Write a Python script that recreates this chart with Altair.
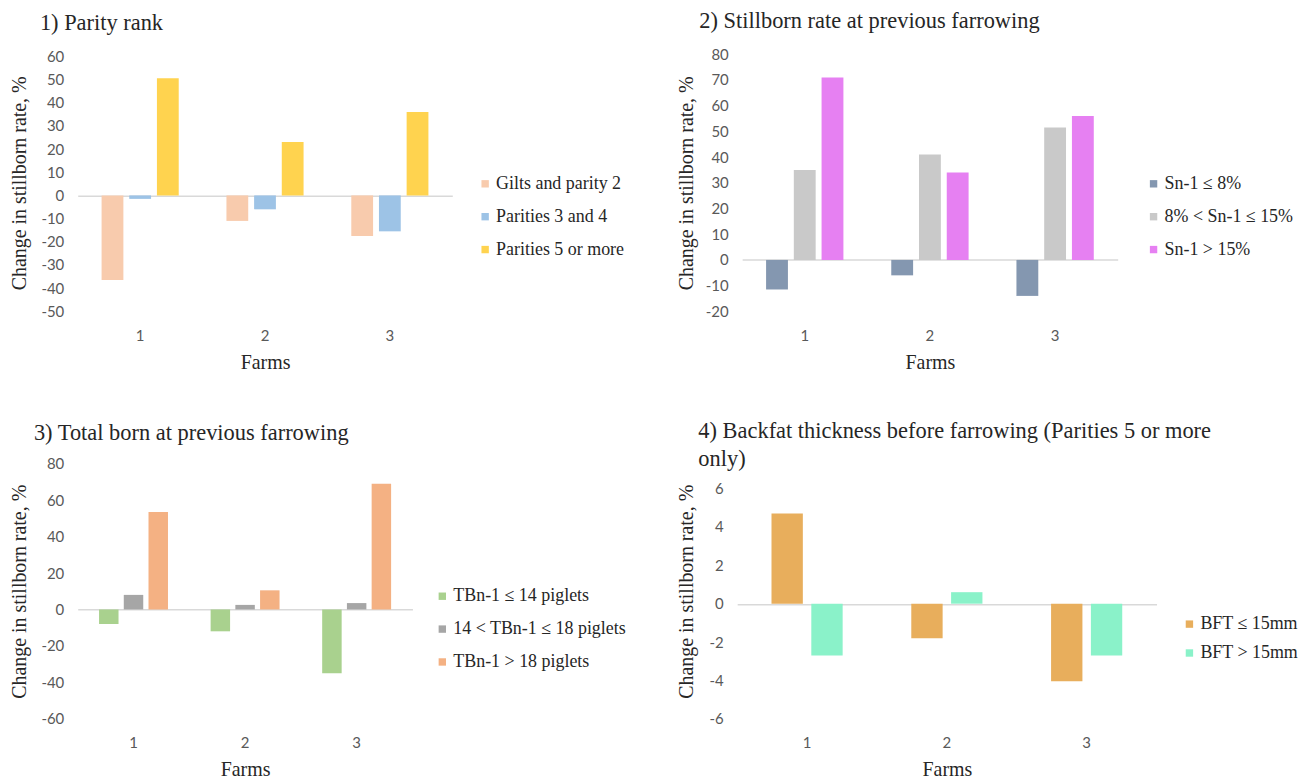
import altair as alt
import pandas as pd

farms = ["1", "2", "3"]

# Panel 1: Parity rank
p1_title = ["1) Parity rank"]
p1_series = ["Gilts and parity 2", "Parities 3 and 4", "Parities 5 or more"]
p1_gilts = [-36.5, -11.0, -17.5]
p1_par34 = [-1.5, -6.0, -15.5]
p1_par5 = [50.5, 23.0, 36.0]
p1_colors = ["#F8CBAD", "#9DC3E6", "#FFD34F"]
p1_ticks = [60, 50, 40, 30, 20, 10, 0, -10, -20, -30, -40, -50]

# Panel 2: Stillborn rate at previous farrowing
p2_title = ["2) Stillborn rate at previous farrowing"]
p2_series = ["Sn-1 ≤ 8%", "8% < Sn-1 ≤ 15%", "Sn-1 > 15%"]
p2_low = [-11.5, -6.0, -14.0]
p2_mid = [35.0, 41.0, 51.5]
p2_high = [71.0, 34.0, 56.0]
p2_colors = ["#8497B0", "#C9C9C9", "#E680F2"]
p2_ticks = [80, 70, 60, 50, 40, 30, 20, 10, 0, -10, -20]

# Panel 3: Total born at previous farrowing
p3_title = ["3) Total born at previous farrowing"]
p3_series = ["TBn-1 ≤ 14 piglets", "14 < TBn-1 ≤ 18 piglets", "TBn-1 > 18 piglets"]
p3_low = [-8.0, -12.0, -35.0]
p3_mid = [8.0, 2.5, 3.5]
p3_high = [53.5, 10.5, 69.0]
p3_colors = ["#A9D18E", "#A6A6A6", "#F4B183"]
p3_ticks = [80, 60, 40, 20, 0, -20, -40, -60]

# Panel 4: Backfat thickness before farrowing
p4_title = ["4) Backfat thickness before farrowing (Parities 5 or more", "only)"]
p4_series = ["BFT ≤ 15mm", "BFT > 15mm"]
p4_thin = [4.7, -1.8, -4.05]
p4_thick = [-2.7, 0.6, -2.7]
p4_colors = ["#E8AE5C", "#8AF2C9"]
p4_ticks = [6, 4, 2, 0, -2, -4, -6]

SERIF = "Liberation Serif"
SANS = "Lato"
TXT = "#262626"
LBL = "#595959"


def panel(title, series, values, colors, ticks, width, height, top_extra,
          title_dx, title_dy, title_offset, ytitle_x, legend_x, legend_y, row_pad):
    rows = []
    for s, vals in zip(series, values):
        for f, v in zip(farms, vals):
            rows.append({"Farm": f, "Series": s, "Value": v})
    df = pd.DataFrame(rows)
    n = len(series)
    gap = 2.19 / (n + (n - 1) * 0.27 + 2.19)
    lo, hi = min(ticks), max(ticks)
    # extra headroom above the top tick (in px) converted to data units
    hi_dom = hi + (hi - lo) * top_extra / (height - top_extra)
    yscale = alt.Scale(domain=[lo, hi_dom], nice=False, zero=False)
    bars = alt.Chart(df).mark_bar().encode(
        x=alt.X("Farm:N", sort=farms,
                scale=alt.Scale(paddingInner=gap, paddingOuter=gap / 2),
                axis=alt.Axis(title="Farms", labelAngle=0, domain=False, ticks=False,
                              labelFont=SANS, labelFontSize=15, labelColor=LBL,
                              labelPadding=17, titleFont=SERIF, titleFontSize=20,
                              titleFontWeight="normal", titleColor=TXT, titlePadding=9)),
        xOffset=alt.XOffset("Series:N", sort=series,
                            scale=alt.Scale(paddingInner=0.27 / 1.27, paddingOuter=0)),
        y=alt.Y("Value:Q", scale=yscale,
                axis=alt.Axis(title="Change in stillborn rate, %", values=ticks,
                              labelExpr="datum.value + ''", domain=False, ticks=False,
                              grid=True, gridWidth=1.5,
                              gridColor={"condition": {"test": "datum.value === 0",
                                                       "value": "#D9D9D9"},
                                         "value": "transparent"},
                              labelOverlap=False, labelFont=SANS,
                              labelFontSize=15, labelColor=LBL, labelPadding=14,
                              titleFont=SERIF, titleFontSize=20, titleFontWeight="normal",
                              titleColor=TXT, titleX=ytitle_x, titleBaseline="middle")),
        color=alt.Color("Series:N", sort=series,
                        scale=alt.Scale(domain=series, range=colors),
                        legend=alt.Legend(title=None, orient="none", legendX=legend_x,
                                          legendY=legend_y, symbolType="square",
                                          symbolSize=55, symbolStrokeWidth=0,
                                          symbolOpacity=1, labelFont=SERIF,
                                          labelFontSize=18, labelColor=TXT,
                                          labelOffset=2, labelLimit=0,
                                          rowPadding=row_pad)),
    )
    return bars.properties(
        width=width, height=height,
        title=alt.TitleParams(title, anchor="start", frame="group", dx=title_dx,
                              dy=title_dy, offset=title_offset, font=SERIF, fontSize=22.5,
                              fontWeight="normal", color=TXT, lineHeight=28),
    )


c1 = panel(p1_title, p1_series, [p1_gilts, p1_par34, p1_par5], p1_colors, p1_ticks,
           376, 258, 2, -38, 0, 15, -58, 400, 121, 15)
c2 = panel(p2_title, p2_series, [p2_low, p2_mid, p2_high], p2_colors, p2_ticks,
           377, 258, 0, -43, 0, 15, -56, 404, 121, 15)
c3 = panel(p3_title, p3_series, [p3_low, p3_mid, p3_high], p3_colors, p3_ticks,
           336, 256, 0, -44, 0, 12, -58, 357, 124, 15)
c4 = panel(p4_title, p4_series, [p4_thin, p4_thick], p4_colors, p4_ticks,
           421, 256, 25, -39, 19, 12, -51, 445, 152, 11)

res = dict(color="independent", x="independent", y="independent", xOffset="independent")
row1 = alt.hconcat(c1, c2, spacing=291, bounds="flush").resolve_scale(**res)
row2 = alt.hconcat(c3, c4, spacing=326, bounds="flush").resolve_scale(**res)
chart = alt.vconcat(row1, row2, spacing=48).resolve_scale(**res).properties(
    padding={"left": 1, "top": 0, "right": 0, "bottom": 0}
).configure_view(stroke=None)

chart.save("out.html", embed_options={"renderer": "svg", "actions": False})
